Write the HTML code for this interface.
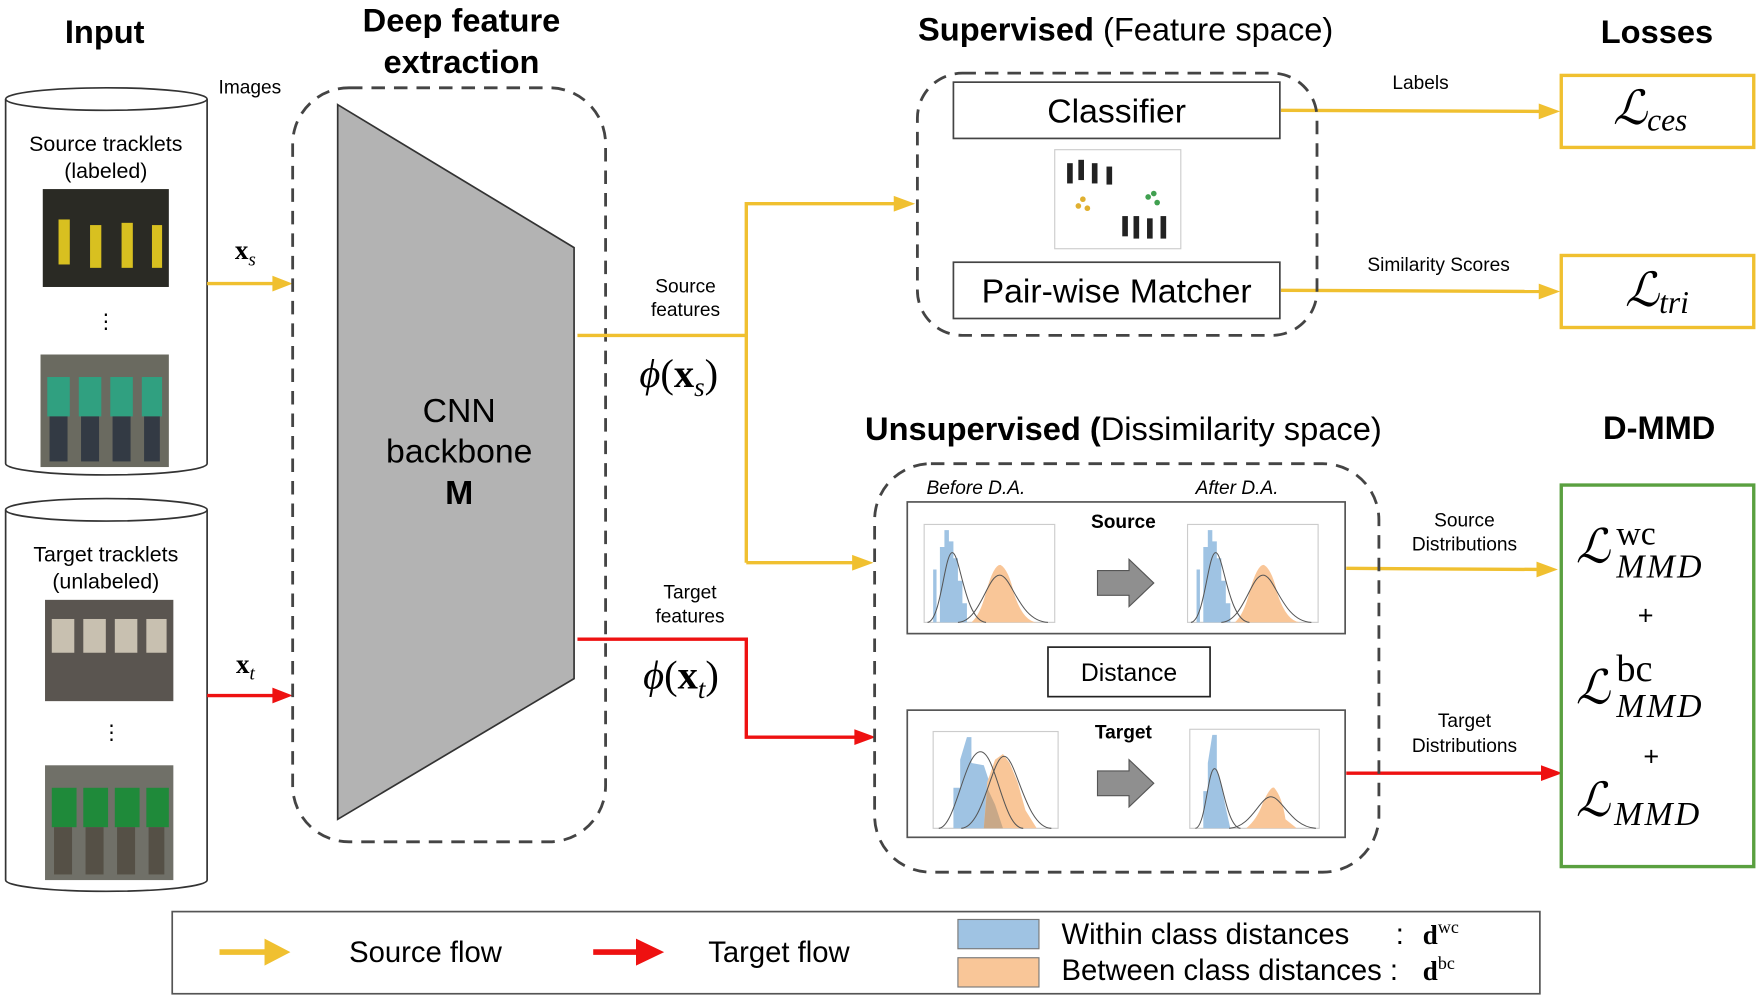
<!DOCTYPE html>
<html><head><meta charset="utf-8"><style>
html,body{margin:0;padding:0;background:#fff;}
svg{display:block;}
text{font-family:"Liberation Sans",sans-serif;}
.s{font-family:"Liberation Serif",serif;}
</style></head><body>
<svg width="1756" height="996" viewBox="0 0 1560 885" preserveAspectRatio="none" xmlns="http://www.w3.org/2000/svg">
<defs>
<marker id="ay" markerWidth="8" markerHeight="8" refX="7" refY="4" orient="auto" markerUnits="userSpaceOnUse" viewBox="0 0 8 8"><path d="M0,0 L8,4 L0,8 z" fill="#f0c030"/></marker>
<g id="srcChart">
<rect x="0" y="0" width="116" height="87" fill="#fff" stroke="#ccc"/>
<path d="M8,87 L8,40 L11,40 L11,87 L14,87 L14,20 L18,20 L18,5 L22,5 L22,15 L26,15 L26,30 L30,30 L30,50 L34,50 L34,70 L38,70 L38,87 z" fill="#9fc3e3"/>
<path d="M42,87 Q50,80 55,60 Q62,35 68,36 Q75,40 80,62 Q88,86 100,87 z" fill="#f9c698"/>
<path d="M3,87 C15,86 18,25 25,25 C32,25 36,86 55,87" fill="none" stroke="#555" stroke-width="0.9"/>
<path d="M30,87 C50,86 56,45 67,45 C78,45 84,86 110,87" fill="none" stroke="#555" stroke-width="0.9"/>
</g>
</defs>

<!-- headers -->
<text x="93" y="38" font-size="29" font-weight="bold" text-anchor="middle">Input</text>
<text x="410" y="28" font-size="29" font-weight="bold" text-anchor="middle">Deep feature</text>
<text x="410" y="65" font-size="29" font-weight="bold" text-anchor="middle">extraction</text>
<text x="1000" y="36" font-size="29" text-anchor="middle"><tspan font-weight="bold">Supervised</tspan> (Feature space)</text>
<text x="1472" y="38" font-size="29" font-weight="bold" text-anchor="middle">Losses</text>
<text x="998" y="391" font-size="29" text-anchor="middle"><tspan font-weight="bold">Unsupervised (</tspan>Dissimilarity space)</text>
<text x="1474" y="390" font-size="29" font-weight="bold" text-anchor="middle">D-MMD</text>

<!-- cylinders -->
<g fill="#fff" stroke="#333" stroke-width="1.5">
<path d="M5,88 L5,412 A89.5,10 0 0 0 184,412 L184,88"/>
<ellipse cx="94.5" cy="88" rx="89.5" ry="10"/>
<path d="M5,453 L5,782 A89.5,10 0 0 0 184,782 L184,453"/>
<ellipse cx="94.5" cy="453" rx="89.5" ry="10"/>
</g>
<text x="94" y="134" font-size="19" text-anchor="middle">Source tracklets</text>
<text x="94" y="158" font-size="19" text-anchor="middle">(labeled)</text>
<text x="94" y="499" font-size="19" text-anchor="middle">Target tracklets</text>
<text x="94" y="523" font-size="19" text-anchor="middle">(unlabeled)</text>
<text x="94" y="292" font-size="18" text-anchor="middle">⋮</text>
<text x="99" y="657" font-size="18" text-anchor="middle">⋮</text>
<!-- image strips -->
<g>
<rect x="38" y="168" width="112" height="87" fill="#2a2a24"/>
<rect x="52" y="195" width="10" height="40" fill="#d8c020"/><rect x="80" y="200" width="10" height="38" fill="#d8c020"/><rect x="108" y="198" width="10" height="40" fill="#d8c020"/><rect x="135" y="200" width="9" height="38" fill="#d8c020"/>
<rect x="36" y="315" width="114" height="100" fill="#6a6a60"/>
<rect x="42" y="335" width="20" height="35" fill="#30a080"/><rect x="70" y="335" width="20" height="35" fill="#30a080"/><rect x="98" y="335" width="20" height="35" fill="#30a080"/><rect x="126" y="335" width="18" height="35" fill="#30a080"/>
<rect x="44" y="370" width="16" height="40" fill="#333a44"/><rect x="72" y="370" width="16" height="40" fill="#333a44"/><rect x="100" y="370" width="16" height="40" fill="#333a44"/><rect x="128" y="370" width="14" height="40" fill="#333a44"/>
<rect x="40" y="533" width="114" height="90" fill="#5a5550"/>
<rect x="46" y="550" width="20" height="30" fill="#c8c0b0"/><rect x="74" y="550" width="20" height="30" fill="#c8c0b0"/><rect x="102" y="550" width="20" height="30" fill="#c8c0b0"/><rect x="130" y="550" width="18" height="30" fill="#c8c0b0"/>
<rect x="40" y="680" width="114" height="102" fill="#707068"/>
<rect x="46" y="700" width="22" height="35" fill="#1f8a3a"/><rect x="74" y="700" width="22" height="35" fill="#1f8a3a"/><rect x="102" y="700" width="22" height="35" fill="#1f8a3a"/><rect x="130" y="700" width="20" height="35" fill="#1f8a3a"/>
<rect x="48" y="735" width="16" height="42" fill="#555046"/><rect x="76" y="735" width="16" height="42" fill="#555046"/><rect x="104" y="735" width="16" height="42" fill="#555046"/><rect x="132" y="735" width="14" height="42" fill="#555046"/>
</g>
<text x="222" y="83" font-size="17" text-anchor="middle">Images</text>
<text x="218" y="230" font-size="24" class="s" text-anchor="middle" font-weight="bold">x<tspan font-size="17" font-style="italic" font-weight="normal" dy="6">s</tspan></text>
<text x="218" y="598" font-size="24" class="s" text-anchor="middle" font-weight="bold">x<tspan font-size="17" font-style="italic" font-weight="normal" dy="6">t</tspan></text>

<!-- arrows input -->
<g stroke-width="3" fill="none">
<line x1="184" y1="252" x2="245" y2="252" stroke="#f0c030"/>
<line x1="184" y1="618" x2="245" y2="618" stroke="#ee1111"/>
</g>
<path d="M242,245 L260,252 L242,259 z" fill="#f0c030"/>
<path d="M242,611 L260,618 L242,625 z" fill="#ee1111"/>

<!-- CNN -->
<rect x="260" y="78" width="278" height="670" rx="50" fill="none" stroke="#444" stroke-width="2.5" stroke-dasharray="12,8"/>
<path d="M300,93 L510,220 L510,603 L300,728 z" fill="#b3b3b3" stroke="#333" stroke-width="1.5"/>
<text x="408" y="375" font-size="30" text-anchor="middle">CNN</text>
<text x="408" y="411" font-size="30" text-anchor="middle">backbone</text>
<text x="408" y="448" font-size="30" font-weight="bold" text-anchor="middle">M</text>

<!-- feature flows -->
<text x="609" y="260" font-size="17" text-anchor="middle">Source</text>
<text x="609" y="281" font-size="17" text-anchor="middle">features</text>
<text x="613" y="532" font-size="17" text-anchor="middle">Target</text>
<text x="613" y="553" font-size="17" text-anchor="middle">features</text>
<text x="603" y="344" font-size="36" class="s" text-anchor="middle"><tspan font-style="italic">ϕ</tspan>(<tspan font-weight="bold">x</tspan><tspan font-size="24" font-style="italic" dy="8">s</tspan><tspan dy="-8">)</tspan></text>
<text x="605" y="612" font-size="36" class="s" text-anchor="middle"><tspan font-style="italic">ϕ</tspan>(<tspan font-weight="bold">x</tspan><tspan font-size="24" font-style="italic" dy="8">t</tspan><tspan dy="-8">)</tspan></text>
<g stroke-width="3" fill="none">
<polyline points="513,298 663,298" stroke="#f0c030"/>
<polyline points="663,500 663,181 797,181" stroke="#f0c030"/>
<polyline points="663,500 760,500" stroke="#f0c030"/>
<polyline points="513,568 663,568 663,655 762,655" stroke="#ee1111"/>
<polyline points="1138,98 1370,99" stroke="#f0c030"/>
<polyline points="1138,258 1370,259" stroke="#f0c030"/>
<polyline points="1196,505 1368,506" stroke="#f0c030"/>
<polyline points="1196,687 1372,687" stroke="#ee1111"/>
</g>
<path d="M794,174 L813,181 L794,188 z" fill="#f0c030"/>
<path d="M757,493 L776,500 L757,507 z" fill="#f0c030"/>
<path d="M759,648 L778,655 L759,662 z" fill="#ee1111"/>
<path d="M1367,92 L1386,99 L1367,106 z" fill="#f0c030"/>
<path d="M1367,252 L1386,259 L1367,266 z" fill="#f0c030"/>
<path d="M1365,499 L1384,506 L1365,513 z" fill="#f0c030"/>
<path d="M1369,680 L1388,687 L1369,694 z" fill="#ee1111"/>

<!-- supervised -->
<rect x="815" y="65" width="355" height="233" rx="40" fill="none" stroke="#444" stroke-width="2.5" stroke-dasharray="12,8"/>
<rect x="847" y="73" width="290" height="50" fill="#fff" stroke="#444" stroke-width="1.5"/>
<text x="992" y="109" font-size="30" text-anchor="middle">Classifier</text>
<rect x="937" y="133" width="112" height="88" fill="#fff" stroke="#ccc"/>
<g fill="#222"><rect x="948" y="145" width="5" height="18"/><rect x="958" y="142" width="5" height="18"/><rect x="970" y="145" width="5" height="18"/><rect x="983" y="148" width="5" height="16"/>
<rect x="997" y="192" width="5" height="18"/><rect x="1007" y="192" width="5" height="20"/><rect x="1019" y="194" width="5" height="18"/><rect x="1031" y="192" width="5" height="20"/></g>
<g fill="#e0b030"><circle cx="958" cy="183" r="2.5"/><circle cx="966" cy="185" r="2.5"/><circle cx="962" cy="177" r="2.5"/></g>
<g fill="#40a050"><circle cx="1020" cy="175" r="2.5"/><circle cx="1028" cy="180" r="2.5"/><circle cx="1025" cy="172" r="2.5"/></g>
<rect x="847" y="233" width="290" height="50" fill="#fff" stroke="#444" stroke-width="1.5"/>
<text x="992" y="269" font-size="30" text-anchor="middle">Pair-wise Matcher</text>
<text x="1262" y="79" font-size="17" text-anchor="middle">Labels</text>
<text x="1278" y="241" font-size="17" text-anchor="middle">Similarity Scores</text>

<!-- losses -->
<rect x="1387" y="67" width="171" height="64" fill="#fff" stroke="#f0c030" stroke-width="3"/>
<rect x="1387" y="227" width="171" height="64" fill="#fff" stroke="#f0c030" stroke-width="3"/>
<text x="1466" y="110" font-size="42" class="s" font-style="italic" text-anchor="middle">ℒ<tspan font-size="28" dy="6">ces</tspan></text>
<text x="1472" y="272" font-size="42" class="s" font-style="italic" text-anchor="middle">ℒ<tspan font-size="28" dy="6">tri</tspan></text>

<!-- unsupervised -->
<rect x="777" y="412" width="448" height="363" rx="50" fill="none" stroke="#444" stroke-width="2.5" stroke-dasharray="12,8"/>
<text x="867" y="439" font-size="17" font-style="italic" text-anchor="middle">Before D.A.</text>
<text x="1099" y="439" font-size="17" font-style="italic" text-anchor="middle">After D.A.</text>
<rect x="806" y="446" width="389" height="117" fill="#fff" stroke="#555" stroke-width="1.5"/>
<text x="998" y="469" font-size="17" font-weight="bold" text-anchor="middle">Source</text>
<use href="#srcChart" x="821" y="466"/>
<use href="#srcChart" x="1055" y="466"/>
<path d="M975,507 L1003,507 L1003,497 L1025,518 L1003,539 L1003,529 L975,529 z" fill="#8f8f8f" stroke="#555"/>
<rect x="931" y="575" width="144" height="44" fill="#fff" stroke="#222" stroke-width="1.5"/>
<text x="1003" y="605" font-size="22" text-anchor="middle">Distance</text>
<rect x="806" y="631" width="389" height="113" fill="#fff" stroke="#555" stroke-width="1.5"/>
<text x="998" y="656" font-size="17" font-weight="bold" text-anchor="middle">Target</text>
<g transform="translate(829,650)">
<rect x="0" y="0" width="111" height="86" fill="#fff" stroke="#ccc"/>
<path d="M18,86 L18,50 L24,50 L24,25 L30,5 L34,5 L34,28 L45,30 L50,45 L55,70 L70,86 z" fill="#9fc3e3"/>
<path d="M45,86 L48,45 L55,25 L62,20 L68,28 L75,45 L82,70 L92,86 z" fill="#f9c698"/>
<path d="M45,86 L48,50 L55,65 L62,86 z" fill="#c8a888"/>
<path d="M5,86 C20,85 28,18 42,18 C56,18 62,86 80,86" fill="none" stroke="#555" stroke-width="0.9"/>
<path d="M25,86 C45,85 52,22 63,22 C74,22 82,86 105,86" fill="none" stroke="#555" stroke-width="0.9"/>
</g>
<g transform="translate(1057,648)">
<rect x="0" y="0" width="115" height="88" fill="#fff" stroke="#ccc"/>
<path d="M12,88 L12,55 L16,55 L16,30 L20,5 L24,5 L24,35 L28,50 L32,70 L36,88 z" fill="#9fc3e3"/>
<path d="M50,88 Q60,80 65,65 Q72,50 75,52 Q82,60 85,80 L95,88 z" fill="#f9c698"/>
<path d="M5,88 C14,87 16,35 22,35 C28,35 32,87 45,88" fill="none" stroke="#555" stroke-width="0.9"/>
<path d="M35,88 C55,87 62,60 72,60 C82,60 90,87 112,88" fill="none" stroke="#555" stroke-width="0.9"/>
</g>
<path d="M975,685 L1003,685 L1003,675 L1025,696 L1003,717 L1003,707 L975,707 z" fill="#8f8f8f" stroke="#555"/>
<text x="1301" y="468" font-size="17" text-anchor="middle">Source</text>
<text x="1301" y="489" font-size="17" text-anchor="middle">Distributions</text>
<text x="1301" y="646" font-size="17" text-anchor="middle">Target</text>
<text x="1301" y="668" font-size="17" text-anchor="middle">Distributions</text>

<!-- D-MMD box -->
<rect x="1387" y="431" width="171" height="339" fill="#fff" stroke="#5aa040" stroke-width="3"/>
<text x="1400" y="500" font-size="42" class="s" font-style="italic">ℒ</text>
<text x="1436" y="484" font-size="30" class="s">wc</text>
<text x="1436" y="513" font-size="30" class="s" font-style="italic" letter-spacing="2">MMD</text>
<text x="1462" y="555" font-size="24" text-anchor="middle">+</text>
<text x="1400" y="625" font-size="42" class="s" font-style="italic">ℒ</text>
<text x="1436" y="605" font-size="34" class="s">bc</text>
<text x="1436" y="637" font-size="30" class="s" font-style="italic" letter-spacing="2">MMD</text>
<text x="1467" y="680" font-size="24" text-anchor="middle">+</text>
<text x="1400" y="725" font-size="42" class="s" font-style="italic">ℒ</text>
<text x="1434" y="733" font-size="30" class="s" font-style="italic" letter-spacing="2">MMD</text>

<!-- legend -->
<rect x="153" y="810" width="1215" height="73" fill="#fff" stroke="#555" stroke-width="1.5"/>
<line x1="195" y1="846" x2="240" y2="846" stroke="#f0c030" stroke-width="5"/>
<path d="M235,834 L258,846 L235,858 z" fill="#f0c030"/>
<text x="378" y="855" font-size="26" text-anchor="middle">Source flow</text>
<line x1="527" y1="846" x2="570" y2="846" stroke="#ee1111" stroke-width="5"/>
<path d="M565,834 L590,846 L565,858 z" fill="#ee1111"/>
<text x="692" y="855" font-size="26" text-anchor="middle">Target flow</text>
<rect x="851" y="817" width="72" height="26" fill="#9fc3e3" stroke="#777"/>
<rect x="851" y="851" width="72" height="26" fill="#f9c698" stroke="#777"/>
<text x="943" y="839" font-size="26">Within class distances</text>
<text x="1240" y="839" font-size="26">:</text>
<text x="1264" y="839" font-size="24" class="s" font-weight="bold">d<tspan font-size="16" font-weight="normal" dy="-10">wc</tspan></text>
<text x="943" y="871" font-size="26">Between class distances :</text>
<text x="1264" y="871" font-size="24" class="s" font-weight="bold">d<tspan font-size="16" font-weight="normal" dy="-10">bc</tspan></text>
</svg>
</body></html>
